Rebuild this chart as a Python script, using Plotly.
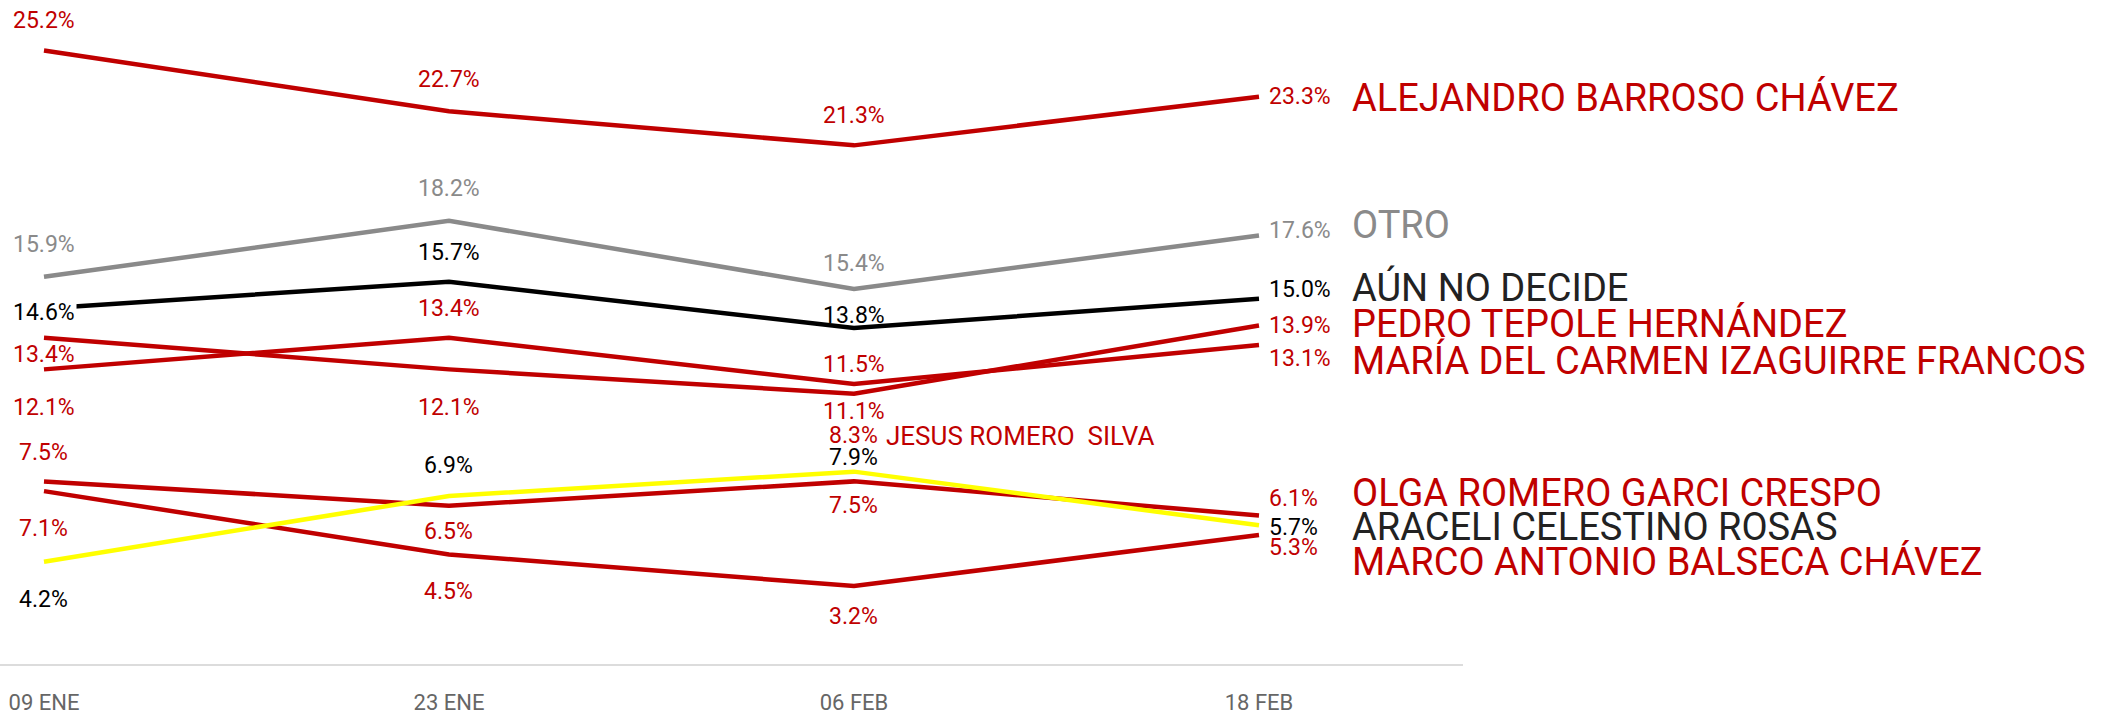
import plotly.graph_objects as go

# ---------------- data ----------------
fechas = ["09 ENE", "23 ENE", "06 FEB", "18 FEB"]

nombres = [
    "MARCO ANTONIO BALSECA CHÁVEZ",
    "OLGA ROMERO GARCI CRESPO",
    "MARÍA DEL CARMEN IZAGUIRRE FRANCOS",
    "PEDRO TEPOLE HERNÁNDEZ",
    "JESUS ROMERO\u00a0 SILVA",
    "ALEJANDRO BARROSO CHÁVEZ",
    "OTRO",
    "AÚN NO DECIDE",
    "ARACELI CELESTINO ROSAS",
]

marco = [7.1, 4.5, 3.2, 5.3]
olga = [7.5, 6.5, 7.5, 6.1]
maria = [12.1, 13.4, 11.5, 13.1]
pedro = [13.4, 12.1, 11.1, 13.9]
jesus = [None, None, 8.3, None]
alejandro = [25.2, 22.7, 21.3, 23.3]
otro = [15.9, 18.2, 15.4, 17.6]
aun_no_decide = [14.6, 15.7, 13.8, 15.0]
araceli = [4.2, 6.9, 7.9, 5.7]

valores = [marco, olga, maria, pedro, jesus, alejandro, otro, aun_no_decide, araceli]

# ---------------- styles ----------------
RED = "#c00000"
GRAY = "#8a8a8a"
BLACK = "#000000"
YELLOW = "#ffff00"
line_colors = [RED, RED, RED, RED, RED, RED, GRAY, BLACK, YELLOW]
label_colors = [RED, RED, RED, RED, RED, RED, GRAY, BLACK, BLACK]
name_colors = [RED, RED, RED, RED, RED, RED, GRAY, "#222222", "#222222"]

# pixel offsets of each point label (label centre minus point, + = downward)
label_dy = [
    [37, 37, 30, 13],     # marco
    [-29, 26, 24, -17],   # olga
    [38, -29, -19, 13],   # maria
    [17, 38, 18, 0],      # pedro
    [None, None, -26, None],  # jesus
    [-30, -32, -30, 0],   # alejandro
    [-32, -32, -26, -5],  # otro
    [4, -29, -12, -9],    # aun no decide
    [38, -30, -14, 2],    # araceli
]
name_dy = [27, -22, 15, -2, -26, 1, -10, -11, 2]

FONT = "Roboto"
PCT_SIZE = 23
NAME_SIZE = 38

fig = go.Figure()
xs = list(range(len(fechas)))

for vals, col in zip(valores, line_colors):
    fig.add_trace(go.Scatter(
        x=xs, y=vals, mode="lines",
        line=dict(color=col, width=4.5),
        hoverinfo="skip", showlegend=False,
    ))

annotations = []
for i, vals in enumerate(valores):
    last = max(j for j, v in enumerate(vals) if v is not None)
    for j, v in enumerate(vals):
        if v is None:
            continue
        txt = f"{v:.1f}%"
        dy = label_dy[i][j]
        if j == len(fechas) - 1:
            annotations.append(dict(
                x=j, y=v, xref="x", yref="y", text=txt, showarrow=False,
                xanchor="left", yanchor="middle", xshift=8, yshift=-dy,
                font=dict(family=FONT, size=PCT_SIZE, color=label_colors[i]),
            ))
            annotations.append(dict(
                x=j, y=v, xref="x", yref="y", text=nombres[i], showarrow=False,
                xanchor="left", yanchor="middle", xshift=91, yshift=-name_dy[i],
                font=dict(family=FONT, size=NAME_SIZE, color=name_colors[i]),
            ))
        else:
            ann = dict(
                x=j, y=v, xref="x", yref="y", text=txt, showarrow=False,
                xanchor="center", yanchor="middle", yshift=-dy,
                font=dict(family=FONT, size=PCT_SIZE, color=label_colors[i]),
            )
            if dy is not None and abs(dy) < 6:
                ann["bgcolor"] = "white"
            annotations.append(ann)
            if j == last:
                # single-point series: name right after the value
                annotations.append(dict(
                    x=j, y=v, xref="x", yref="y", text=nombres[i], showarrow=False,
                    xanchor="left", yanchor="middle", xshift=30, yshift=-dy,
                    font=dict(family=FONT, size=PCT_SIZE + 3, color=label_colors[i]),
                ))

fig.update_layout(
    width=2105, height=717,
    margin=dict(l=0, r=642, t=0, b=53),
    paper_bgcolor="white", plot_bgcolor="white",
    showlegend=False,
    annotations=annotations,
    xaxis=dict(
        range=[-0.1086, 3.5037],
        tickmode="array", tickvals=xs, ticktext=fechas,
        showgrid=False, zeroline=False,
        showline=True, linecolor="#dcdcdc", linewidth=2,
        ticks="outside", ticklen=18, tickcolor="rgba(0,0,0,0)",
        tickfont=dict(family=FONT, size=22, color="#666666"),
        fixedrange=True,
    ),
    yaxis=dict(
        range=[0, 27.27], visible=False, showgrid=False, zeroline=False,
        fixedrange=True,
    ),
)

fig.write_html(
    "out.html",
    config={"displayModeBar": False},
    post_script="document.body.style.margin='0';document.body.style.overflow='hidden';",
)
